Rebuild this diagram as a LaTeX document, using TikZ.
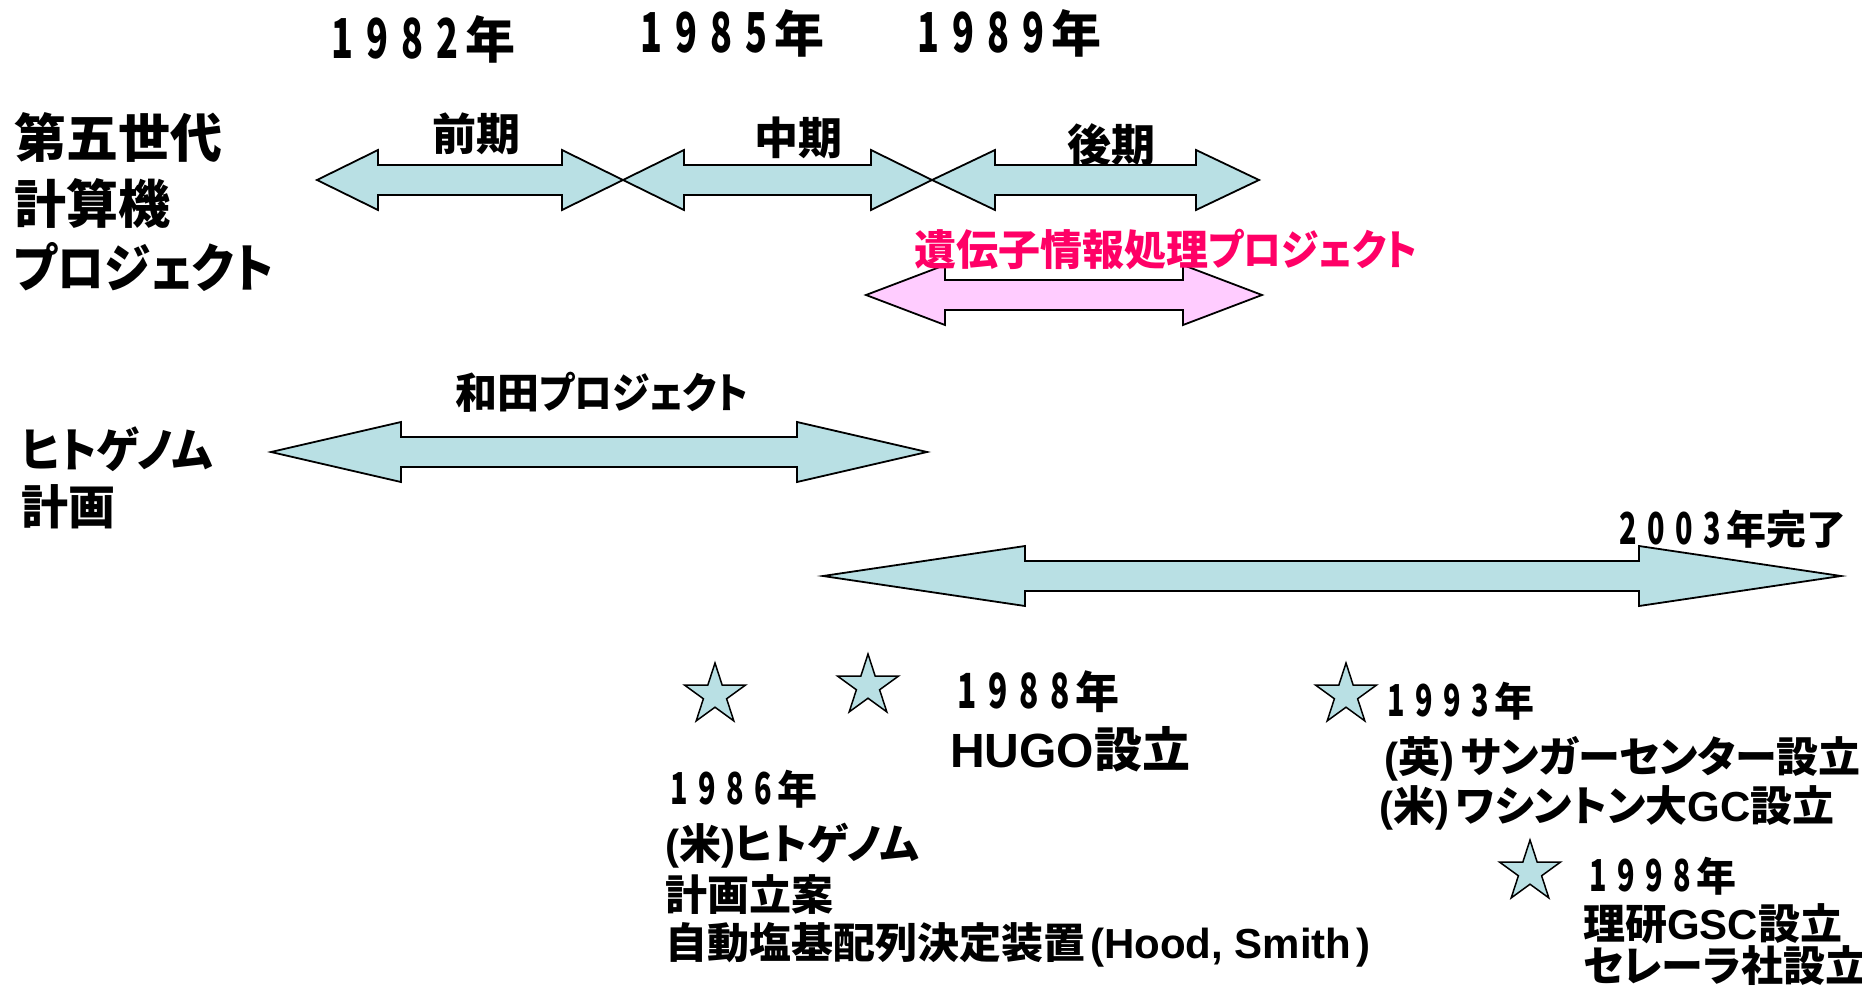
\documentclass[tikz,border=0pt]{standalone}
\usepackage{fontspec}
\usepackage{graphicx}
\usetikzlibrary{shapes.geometric}
\newfontfamily\jp{Noto Sans CJK JP}[RawFeature=+palt]
\newfontfamily\ar{Liberation Sans}
\definecolor{tealfill}{RGB}{185,224,228}
\definecolor{pinkfill}{RGB}{255,204,255}
\definecolor{pinktext}{RGB}{255,0,102}
\newcommand\dg[1]{\makebox[0.7em]{\scalebox{0.72}[1.1]{#1}}}
\newcommand\yr[4]{\dg{#1}\dg{#2}\dg{#3}\dg{#4}}
\newcommand\la[1]{{\ar\bfseries #1}}
\newcommand\kx[2][0.9]{\scalebox{#1}[1]{#2}}
% double arrow: x1 x2 y headlength fill
\newcommand\dbar[5]{%
 \draw[arrowbox, fill=#5] (#1,#3) -- ({#1+#4},{#3-30}) -- ({#1+#4},{#3-15}) -- ({#2-#4},{#3-15}) -- ({#2-#4},{#3-30}) -- (#2,#3) -- ({#2-#4},{#3+30}) -- ({#2-#4},{#3+15}) -- ({#1+#4},{#3+15}) -- ({#1+#4},{#3+30}) -- cycle;}
% text nodes: name x centre-y size text
\newcommand\TX[6]{%
 \pgfmathsetmacro\myth{0.82*#4}\pgfmathsetmacro\mytd{0.1*#4}%
 \node[tx, anchor=#6, text height=\myth pt, text depth=\mytd pt] (#1) at (#2,{#3+0.37*#4}) {\fontsize{#4}{#4}\selectfont #5};}
\newcommand\TL[5]{\TX{#1}{#2}{#3}{#4}{#5}{base west}}
\newcommand\TC[5]{\TX{#1}{#2}{#3}{#4}{#5}{base}}
\begin{document}
\begin{tikzpicture}[x=1pt, y=-1pt,
  tx/.style={inner sep=0pt, font=\jp\bfseries},
  arrowbox/.style={draw=black, line width=1.8pt, line join=miter},
  starn/.style={star, star points=5, star point ratio=2.62, minimum size=64pt, inner sep=0pt, draw=black, line width=1.5pt, fill=tealfill}]
\fill[white] (0,0) rectangle (1862,995);
\useasboundingbox (0,0) rectangle (1862,995);

% years
\TL{y82}{325}{40}{50}{\yr1982年}
\TL{y85}{634}{34}{50}{\yr1985年}
\TL{y89}{911}{34}{50}{\yr1989年}

% left labels
\TL{g1}{14}{138}{52}{第五世代}
\TL{g2}{14}{204}{52}{計算機}
\TL{g3}{14}{268}{52}{\kx{プロジェクト}}
\TL{h1}{21}{450}{47}{\kx[0.93]{ヒトゲノム}}
\TL{h2}{21}{507}{47}{計画}

% fifth generation arrows
\dbar{317}{623}{180}{61}{tealfill}
\dbar{623}{932}{180}{61}{tealfill}
\dbar{932}{1259}{180}{63}{tealfill}
\TC{p1}{476}{134}{44}{前期}
\TC{p2}{798}{138}{44}{中期}
\TC{p3}{1111}{145}{44}{後期}

% gene information project
\dbar{866}{1262}{295}{79}{pinkfill}
\TL{gi}{914}{250}{42}{\color{pinktext}遺伝子情報処理\kx{プロジェクト}}

% Wada project
\dbar{271}{927}{452}{130}{tealfill}
\TL{wada}{455}{393}{42}{和田\kx{プロジェクト}}

% human genome project
\dbar{823}{1841}{576}{202}{tealfill}
\TL{fin}{1614}{530}{40}{\dg2\dg0\dg0\dg3年完了}

% stars
\node[starn] (s1) at (715,695) {};
\node[starn] (s2) at (868,686) {};
\node[starn] (s3) at (1346,695) {};
\node[starn] (s4) at (1530,872) {};

% events
\TL{e88a}{952}{692}{44}{\yr1988年}
\TL{e88b}{950}{750}{48}{\la{HUGO}設立}
\TL{e86a}{665}{790}{40}{\yr1986年}
\TL{e86b}{665}{844}{42}{\la{(}米\la{)}ヒトゲノム}
\TL{e86c}{665}{895}{42}{計画立案}
\TL{e86d}{665}{943}{42}{自動塩基配列決定装置\hspace{0.12em}\la{(Hood, Smith\hspace{0.12em})}}
\TL{e93a}{1382}{702}{40}{\yr1993年}
\TL{e93b}{1384}{757}{42}{\la{(}英\la{)}\hspace{0.15em}サンガーセンター設立}
\TL{e93c}{1379}{806}{42}{\la{(}米\la{)}\hspace{0.15em}ワシントン大\la{GC}設立}
\TL{e98a}{1584}{877}{40}{\yr1998年}
\TL{e98b}{1583}{924}{42}{理研\la{GSC}設立}
\TL{e98c}{1583}{966}{42}{セレーラ社設立}
\end{tikzpicture}
\end{document}
